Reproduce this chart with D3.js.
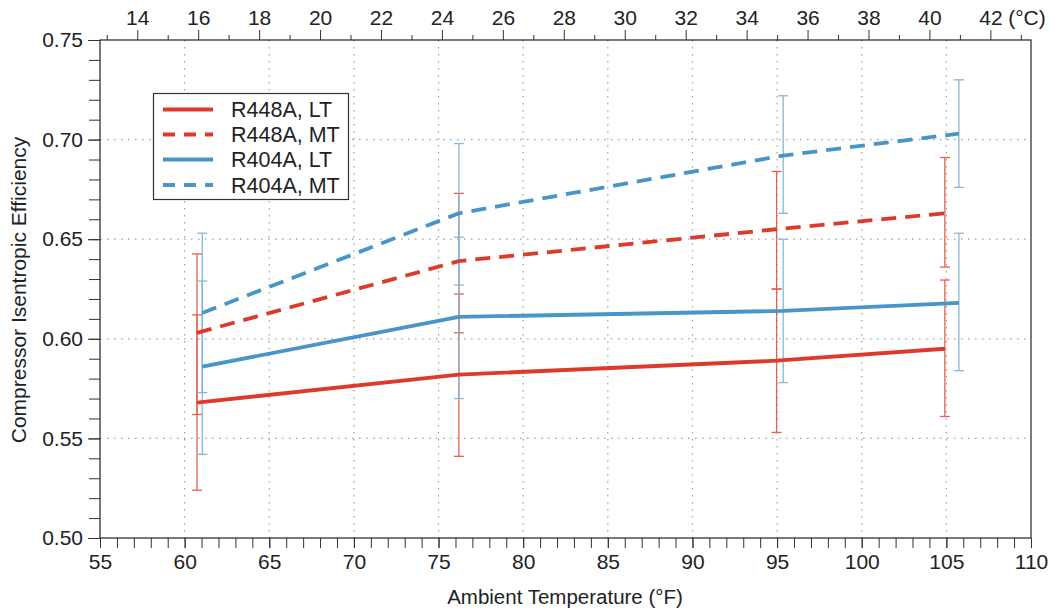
<!DOCTYPE html>
<html>
<head>
<meta charset="utf-8">
<script src="https://cdn.jsdelivr.net/npm/d3@7"></script>
<style>
  html, body { margin: 0; padding: 0; background: #fff; }
  svg { display: block; font-family: "Liberation Sans", Arial, Helvetica, sans-serif; }
</style>
</head>
<body>
<svg id="chart" width="1055" height="612"></svg>
<script>
// ---------- data ----------
const seriesNames = ["R448A, LT", "R448A, MT", "R404A, LT", "R404A, MT"];
const r448X = [60.73, 76.2, 94.97, 104.91];
const r404X = [61.04, 76.2, 95.36, 105.74];

const r448LT = [0.568, 0.582, 0.589, 0.595];
const r448LTLow = [0.524, 0.541, 0.553, 0.561];
const r448LTHigh = [0.612, 0.6225, 0.625, 0.6295];

const r448MT = [0.603, 0.639, 0.655, 0.663];
const r448MTLow = [0.562, 0.603, 0.625, 0.636];
const r448MTHigh = [0.6426, 0.673, 0.684, 0.691];

const r404LT = [0.586, 0.611, 0.614, 0.618];
const r404LTLow = [0.542, 0.570, 0.578, 0.584];
const r404LTHigh = [0.629, 0.651, 0.650, 0.653];

const r404MT = [0.613, 0.663, 0.692, 0.703];
const r404MTLow = [0.573, 0.627, 0.663, 0.676];
const r404MTHigh = [0.653, 0.698, 0.722, 0.730];

const xTicksF = [55, 60, 65, 70, 75, 80, 85, 90, 95, 100, 105, 110];
const yTicks = [0.50, 0.55, 0.60, 0.65, 0.70, 0.75];
const topTicksC = [14, 16, 18, 20, 22, 24, 26, 28, 30, 32, 34, 36, 38, 40, 42];

// ---------- layout ----------
const svg = d3.select("#chart");
const mLeft = 100, mRight = 1031, mTop = 40, mBottom = 538;
const x = d3.scaleLinear().domain([55, 110]).range([mLeft, mRight]);
const y = d3.scaleLinear().domain([0.50, 0.75]).range([mBottom, mTop]);
const cToF = c => c * 9 / 5 + 32;

const RED = "#de3a2c", BLUE = "#4995c7";
const RED_BAR = "#e0634f", BLUE_BAR = "#86b7d8";

const series = [
  { name: seriesNames[0], xs: r448X, v: r448LT, lo: r448LTLow, hi: r448LTHigh, color: RED, bar: RED_BAR, dash: null },
  { name: seriesNames[1], xs: r448X, v: r448MT, lo: r448MTLow, hi: r448MTHigh, color: RED, bar: RED_BAR, dash: "15,9" },
  { name: seriesNames[2], xs: r404X, v: r404LT, lo: r404LTLow, hi: r404LTHigh, color: BLUE, bar: BLUE_BAR, dash: null },
  { name: seriesNames[3], xs: r404X, v: r404MT, lo: r404MTLow, hi: r404MTHigh, color: BLUE, bar: BLUE_BAR, dash: "15,9" }
];

// ---------- grid ----------
const grid = svg.append("g");
grid.selectAll("line.gx").data(xTicksF.filter(d => d > 55 && d < 110)).join("line")
  .attr("x1", d => x(d)).attr("x2", d => x(d)).attr("y1", mTop).attr("y2", mBottom)
  .attr("stroke", "#a0a0a0").attr("stroke-width", 1.2).attr("stroke-dasharray", "1.5,5.5");
grid.selectAll("line.gy").data(yTicks.filter(d => d > 0.5 && d < 0.75)).join("line")
  .attr("x1", mLeft).attr("x2", mRight).attr("y1", d => y(d)).attr("y2", d => y(d))
  .attr("stroke", "#a0a0a0").attr("stroke-width", 1.2).attr("stroke-dasharray", "1.5,5.5");

// ---------- axes ----------
const fontSize = 21;
const axisColor = "#333";

const yMinor = d3.range(0, 26).map(i => 0.50 + i * 0.01);
svg.append("g").attr("transform", `translate(${mLeft},0)`)
  .call(d3.axisLeft(y).tickValues(yMinor).tickSize(11).tickFormat(""));
svg.append("g").attr("transform", `translate(${mLeft},0)`)
  .call(d3.axisLeft(y).tickValues(yTicks).tickSize(12).tickPadding(5).tickFormat(d3.format(".2f")))
  .call(g => g.selectAll("text").attr("font-size", fontSize).attr("fill", "#222"));

const xMinor = d3.range(55, 111, 1);
svg.append("g").attr("transform", `translate(0,${mBottom})`)
  .call(d3.axisBottom(x).tickValues(xMinor).tickSize(10).tickFormat(""));
svg.append("g").attr("transform", `translate(0,${mBottom})`)
  .call(d3.axisBottom(x).tickValues(xTicksF).tickSize(10).tickPadding(6).tickFormat(d3.format("d")))
  .call(g => g.selectAll("text").attr("font-size", fontSize).attr("fill", "#222"));

const topMinorC = d3.range(13, 44, 2);
svg.append("g").attr("transform", `translate(0,${mTop})`)
  .call(d3.axisTop(x).tickValues(topMinorC.map(cToF)).tickSize(5).tickFormat(""));
svg.append("g").attr("transform", `translate(0,${mTop})`)
  .call(d3.axisTop(x).tickValues(topTicksC.map(cToF)).tickSize(10).tickPadding(5)
    .tickFormat((d, i) => topTicksC[i]))
  .call(g => g.selectAll("text").attr("font-size", fontSize).attr("fill", "#222"));

svg.selectAll(".domain").remove();
svg.selectAll(".tick line").attr("stroke", axisColor);

// frame
svg.append("rect").attr("x", mLeft).attr("y", mTop).attr("width", mRight - mLeft).attr("height", mBottom - mTop)
  .attr("fill", "none").attr("stroke", "#222").attr("stroke-width", 1.2);

svg.append("text").attr("x", 1027).attr("y", 25).attr("text-anchor", "middle")
  .attr("font-size", fontSize).attr("fill", "#222").text("(°C)");

// titles
svg.append("text").attr("x", 565).attr("y", 604).attr("text-anchor", "middle")
  .attr("font-size", 20.5).attr("fill", "#222").text("Ambient Temperature (°F)");
svg.append("text").attr("transform", `translate(26,${(mTop + mBottom) / 2 + 1}) rotate(-90)`)
  .attr("text-anchor", "middle").attr("font-size", 21).attr("fill", "#222")
  .text("Compressor Isentropic Efficiency");

// ---------- error bars ----------
const capW = 5;
series.forEach(s => {
  const g = svg.append("g").attr("stroke", s.bar).attr("stroke-width", 1.3).attr("fill", "none");
  s.xs.forEach((xv, i) => {
    const cx = x(xv);
    g.append("line").attr("x1", cx).attr("x2", cx).attr("y1", y(s.lo[i])).attr("y2", y(s.hi[i]));
    g.append("line").attr("x1", cx - capW).attr("x2", cx + capW).attr("y1", y(s.lo[i])).attr("y2", y(s.lo[i]));
    g.append("line").attr("x1", cx - capW).attr("x2", cx + capW).attr("y1", y(s.hi[i])).attr("y2", y(s.hi[i]));
  });
});

// ---------- lines ----------
const line = d3.line().x(d => x(d[0])).y(d => y(d[1]));
series.forEach(s => {
  svg.append("path").datum(s.xs.map((xv, i) => [xv, s.v[i]]))
    .attr("d", line).attr("fill", "none").attr("stroke", s.color).attr("stroke-width", 3.8)
    .attr("stroke-dasharray", s.dash).attr("stroke-linejoin", "round");
});

// ---------- legend ----------
const lg = svg.append("g");
lg.append("rect").attr("x", 153.5).attr("y", 93.5).attr("width", 195).attr("height", 106)
  .attr("fill", "#fff").attr("stroke", "#333").attr("stroke-width", 1.2);
const rowY = [109.5, 134.5, 159.5, 185];
series.forEach((s, i) => {
  lg.append("line").attr("x1", 163).attr("x2", 213).attr("y1", rowY[i]).attr("y2", rowY[i])
    .attr("stroke", s.color).attr("stroke-width", 3.8).attr("stroke-dasharray", s.dash ? "12,9" : null);
  lg.append("text").attr("x", 231).attr("y", rowY[i] + 7.5).attr("font-size", 21.5).attr("fill", "#222").text(s.name);
});
</script>
</body>
</html>
